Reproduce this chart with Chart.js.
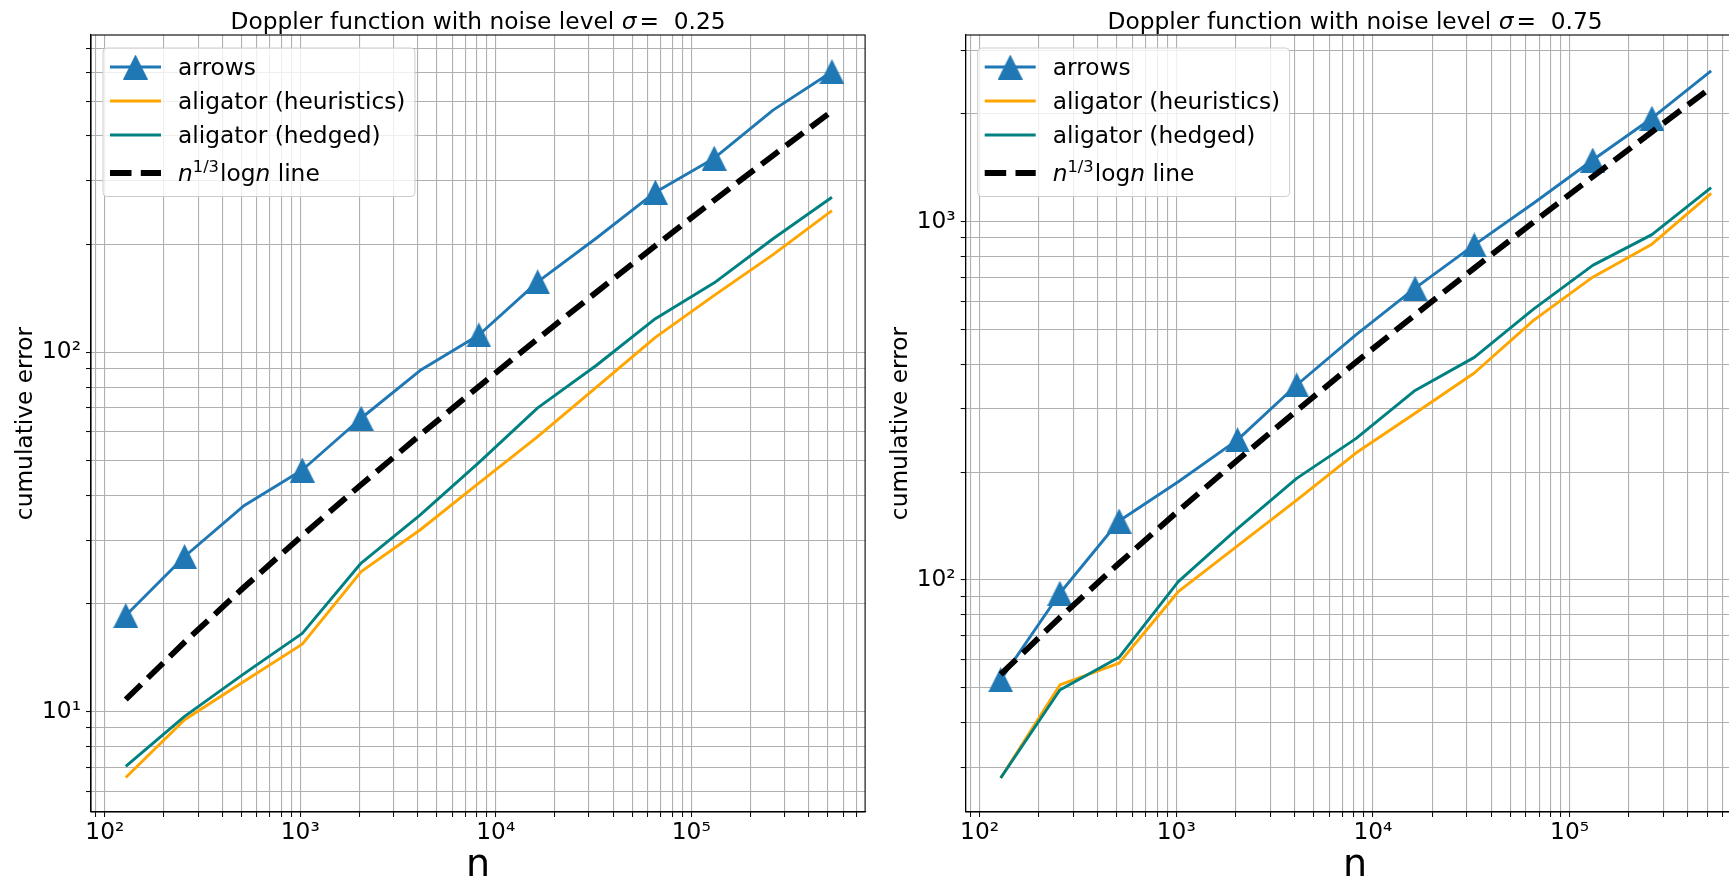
<!DOCTYPE html>
<html>
<head>
<meta charset="utf-8">
<script src="https://cdn.jsdelivr.net/npm/chart.js@4.4.1/dist/chart.umd.min.js"></script>
<style>
  html, body { margin: 0; padding: 0; background: #fff; overflow: hidden; width: 1729px; height: 878px; }
  .panel { position: absolute; top: 0; height: 878px; }
  #leftPanel { left: 0; width: 880px; }
  #rightPanel { left: 880px; width: 880px; }
</style>
</head>
<body>
<div class="panel" id="leftPanel"><canvas id="chartLow"></canvas></div>
<div class="panel" id="rightPanel"><canvas id="chartHigh"></canvas></div>
<script>
const nValues = [128, 256, 512, 1024, 2048, 4096, 8192, 16384, 32768, 65536, 131072, 262144, 524288];

// sigma = 0.25
const arrowsLow = [18.5, 27.0, 37.3, 47.0, 65.5, 88.9, 111.7, 157, 208, 279, 347, 472, 604];
const heuristicsLow = [6.55, 9.48, 12.1, 15.4, 24.5, 32.0, 43.2, 58.2, 80, 110, 144, 187, 248];
const hedgedLow = [7.03, 9.69, 12.7, 16.5, 25.9, 35.2, 49.3, 70, 92, 124, 156, 207, 270];
const refLineLow = [10.8, 15.6, 22.1, 30.9, 42.8, 58.8, 80.3, 109, 147, 198, 265, 353, 469];
const markersLow = [0, 1, 3, 4, 6, 7, 9, 10, 12];

// sigma = 0.75
const arrowsHigh = [52.6, 91.8, 146, 188, 246, 350, 483, 652, 861, 1126, 1486, 1944, 2637];
const heuristicsHigh = [28.0, 50.9, 58.6, 92.7, 124.4, 167, 226, 292, 378, 530, 700, 865, 1200];
const hedgedHigh = [28.0, 49.3, 60.8, 98.9, 139, 192, 248, 338, 418, 570, 755, 920, 1245];
const refLineHigh = [54.5, 78.5, 111.3, 155.8, 216, 296.8, 405.2, 549.7, 741.9, 997.3, 1335, 1781, 2368];
const markersHigh = [0, 1, 2, 4, 5, 7, 8, 10, 11];

const seriesNames = ['arrows', 'aligator (heuristics)', 'aligator (hedged)', 'n^(1/3) log n line'];
const seriesColors = ['#1f77b4', '#ffa500', '#008080', '#000000'];

const xMajor = [100, 1000, 10000, 100000];
const xTickLabels = ['10²', '10³', '10⁴', '10⁵'];
const yMajorLow = [10, 100];
const yTickLabelsLow = ['10¹', '10²'];
const yMajorHigh = [100, 1000];
const yTickLabelsHigh = ['10²', '10³'];

const FONT = 'DejaVu Sans';
const TEXT_SIZE = 23.3;
Chart.defaults.font.family = FONT;
Chart.defaults.color = '#000';

// matplotlib style "^" marker
function triangleMarker(size, color) {
  const c = document.createElement('canvas');
  c.width = size;
  c.height = size;
  const g = c.getContext('2d');
  g.fillStyle = color;
  g.beginPath();
  g.moveTo(size / 2, 0);
  g.lineTo(size, size);
  g.lineTo(0, size);
  g.closePath();
  g.fill();
  return c;
}
const triangle = triangleMarker(25, seriesColors[0]);

function logTicks(min, max) {
  const ticks = [];
  for (let e = Math.floor(Math.log10(min)); e <= Math.ceil(Math.log10(max)); e++) {
    for (let m = 1; m < 10; m++) {
      const v = m * Math.pow(10, e);
      if (v >= min && v <= max) ticks.push({ value: v });
    }
  }
  return ticks;
}

function toPoints(values) {
  return values.map((v, i) => ({ x: nValues[i], y: v }));
}

// draws rich text pieces, returns width
function drawRich(ctx, parts, x, y, size, measureOnly) {
  let cx = x;
  for (const p of parts) {
    const s = p.sup ? size * 0.7 : size;
    ctx.font = (p.italic ? 'italic ' : '') + s + 'px ' + FONT;
    if (!measureOnly) ctx.fillText(p.t, cx, p.sup ? y - 9 : y);
    cx += ctx.measureText(p.t).width + (p.gap || 0);
  }
  return cx - x;
}

const legendParts = [
  [{ t: 'arrows' }],
  [{ t: 'aligator (heuristics)' }],
  [{ t: 'aligator (hedged)' }],
  [{ t: 'n', italic: true }, { t: '1/3', sup: true, gap: 1 }, { t: 'log' }, { t: 'n', italic: true }, { t: ' line' }]
];

const frameAndLegend = {
  id: 'frameAndLegend',
  afterDatasetsDraw(chart) {
    const { ctx, chartArea: a } = chart;
    ctx.save();
    ctx.strokeStyle = '#000';
    ctx.lineWidth = 1.1;
    ctx.strokeRect(a.left, a.top, a.right - a.left, a.bottom - a.top);

    // legend box
    let maxW = 0;
    legendParts.forEach(p => { maxW = Math.max(maxW, drawRich(ctx, p, 0, 0, TEXT_SIZE, true)); });
    const bx = a.left + 12, by = a.top + 13;
    const bw = 75 + maxW + 9.5, bh = 148.5;
    ctx.beginPath();
    ctx.roundRect(bx, by, bw, bh, 4);
    ctx.fillStyle = 'rgba(255,255,255,0.8)';
    ctx.fill();
    ctx.strokeStyle = '#cccccc';
    ctx.lineWidth = 1;
    ctx.stroke();

    const rows = [32, 66, 100, 138];
    chart.data.datasets.forEach((ds, i) => {
      const yc = a.top + rows[i];
      ctx.beginPath();
      ctx.strokeStyle = ds.borderColor;
      ctx.lineWidth = ds.borderWidth;
      ctx.setLineDash(ds.borderDash || []);
      ctx.moveTo(bx + 7, yc);
      ctx.lineTo(bx + 58, yc);
      ctx.stroke();
      ctx.setLineDash([]);
      if (i === 0) ctx.drawImage(triangle, bx + 32.5 - 12.5, yc - 12.5);
      ctx.fillStyle = '#000';
      ctx.textBaseline = 'alphabetic';
      drawRich(ctx, legendParts[i], bx + 75, yc + 8, TEXT_SIZE, false);
    });
    ctx.restore();
  },
  afterDraw(chart) {
    const { ctx, chartArea: a } = chart;
    const parts = [{ t: 'Doppler function with noise level ' }, { t: 'σ', italic: true, gap: 3 }, { t: '=  ' + chart.options.sigmaText }];
    ctx.save();
    ctx.fillStyle = '#000';
    ctx.textBaseline = 'alphabetic';
    const w = drawRich(ctx, parts, 0, 0, TEXT_SIZE, true);
    drawRich(ctx, parts, (a.left + a.right) / 2 - w / 2, 28.5, TEXT_SIZE, false);
    ctx.restore();
  }
};

function makeChart(id, cfg) {
  const xMin = 85, xMax = 775000;
  return new Chart(document.getElementById(id), {
    type: 'line',
    data: {
      datasets: [
        {
          label: seriesNames[0], data: toPoints(cfg.arrows), borderColor: seriesColors[0], borderWidth: 2.9,
          pointStyle: triangle, pointRadius: nValues.map((_, i) => cfg.markers.includes(i) ? 12 : 0),
          pointBackgroundColor: seriesColors[0], borderJoinStyle: 'round', order: 3
        },
        { label: seriesNames[1], data: toPoints(cfg.heuristics), borderColor: seriesColors[1], borderWidth: 2.9, pointRadius: 0, borderJoinStyle: 'round', order: 2 },
        { label: seriesNames[2], data: toPoints(cfg.hedged), borderColor: seriesColors[2], borderWidth: 2.9, pointRadius: 0, borderJoinStyle: 'round', order: 1 },
        { label: seriesNames[3], data: toPoints(cfg.ref), borderColor: seriesColors[3], borderWidth: 5.8, borderDash: [21.5, 9.3], pointRadius: 0, order: 0 }
      ]
    },
    options: {
      sigmaText: cfg.sigma,
      responsive: true,
      maintainAspectRatio: false,
      animation: false,
      events: [],
      layout: { padding: { top: 35, right: cfg.padRight, bottom: 0, left: 0 } },
      plugins: { legend: { display: false }, tooltip: { enabled: false } },
      scales: {
        x: {
          type: 'logarithmic', min: xMin, max: xMax,
          afterBuildTicks: s => { s.ticks = logTicks(xMin, xMax); },
          afterFit: s => { s.height = 66; },
          ticks: {
            autoSkip: false, maxRotation: 0, padding: 2, font: { size: TEXT_SIZE }, color: '#000',
            callback: v => { const k = xMajor.indexOf(v); return k >= 0 ? xTickLabels[k] : ''; }
          },
          grid: { color: '#b0b0b0', lineWidth: 1.1, tickLength: 5, tickColor: '#000', tickWidth: 1 },
          border: { color: '#000', width: 1.1 },
          title: { display: true, text: 'n', font: { size: 38, lineHeight: 0.65 }, padding: 0, color: '#000' }
        },
        y: {
          type: 'logarithmic', min: cfg.yMin, max: cfg.yMax,
          afterBuildTicks: s => { s.ticks = logTicks(cfg.yMin, cfg.yMax); },
          afterFit: s => { s.width = cfg.yWidth; },
          ticks: {
            autoSkip: false, padding: 5, font: { size: TEXT_SIZE }, color: '#000',
            callback: v => { const k = cfg.yMajor.indexOf(v); return k >= 0 ? cfg.yLabels[k] : ''; }
          },
          grid: { color: '#b0b0b0', lineWidth: 1.1, tickLength: 5, tickColor: '#000', tickWidth: 1 },
          border: { color: '#000', width: 1.1 },
          title: { display: true, text: 'cumulative error', font: { size: TEXT_SIZE, lineHeight: 1 }, padding: { top: cfg.yTitlePad, bottom: 0 }, color: '#000' }
        }
      }
    },
    plugins: [frameAndLegend]
  });
}

makeChart('chartLow', {
  arrows: arrowsLow, heuristics: heuristicsLow, hedged: hedgedLow, ref: refLineLow, markers: markersLow,
  sigma: '0.25', yMin: 5.25, yMax: 764, yMajor: yMajorLow, yLabels: yTickLabelsLow,
  yWidth: 91, padRight: 7.7, yTitlePad: 14.5
});

makeChart('chartHigh', {
  arrows: arrowsHigh, heuristics: heuristicsHigh, hedged: hedgedHigh, ref: refLineHigh, markers: markersHigh,
  sigma: '0.75', yMin: 22.5, yMax: 3319, yMajor: yMajorHigh, yLabels: yTickLabelsHigh,
  yWidth: 85.7, padRight: 15.5, yTitlePad: 9.5
});
</script>
</body>
</html>
